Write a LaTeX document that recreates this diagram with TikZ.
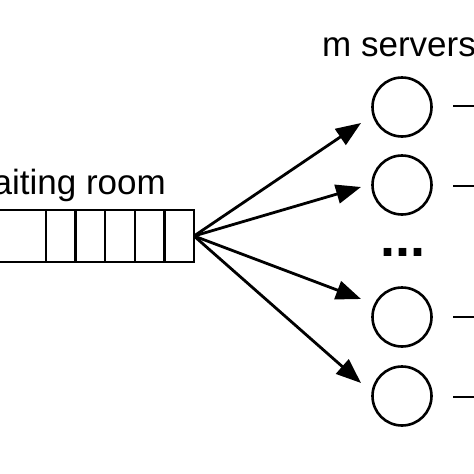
\documentclass[tikz,border=0pt]{standalone}
\usepackage{fontspec}
\setmainfont{Liberation Sans}
\usetikzlibrary{arrows.meta}
\tikzset{
  thinline/.style={line width=2.5pt, black},
  srv/.style={circle, draw, line width=2.6pt, minimum size=59pt, inner sep=0pt},
  flow/.style={line width=2.8pt, -{Triangle[length=25pt,width=19pt]}},
  outline/.style={line width=2.8pt},
  lbl/.style={font=\fontsize{35}{40}\selectfont, inner sep=0pt}
}
\begin{document}
\begin{tikzpicture}[x=1pt,y=-1pt]
\useasboundingbox (0,0) rectangle (474,474);
\clip (0,0) rectangle (474,474);
% queue
\draw[thinline] (-20,210) -- (194,210) -- (194,262) -- (-20,262);
\foreach \k in {1,...,5} {
  \draw[thinline] (194-29.6*\k,210) -- (194-29.6*\k,262);
}
\coordinate (q) at (194,236);
\node[lbl, anchor=base east] (wr) at (166,194) {waiting room};
% servers
\node[srv] (s1) at (402,107) {};
\node[srv] (s2) at (402,185) {};
\node[srv] (s3) at (402,317) {};
\node[srv] (s4) at (402,396) {};
\node[lbl, anchor=base west] (ms) at (322,56) {m servers};
\node[inner sep=0pt, anchor=base, font=\fontsize{54}{60}\selectfont\bfseries] (dots) at (403,256) {...};
% arrow targets
\coordinate (t1) at (361,123);
\coordinate (t2) at (361,187);
\coordinate (t3) at (361,299);
\coordinate (t4) at (361,383);
\draw[flow] (q) -- (t1);
\draw[flow] (q) -- (t2);
\draw[flow] (q) -- (t3);
\draw[flow] (q) -- (t4);
% outgoing lines
\coordinate (o1) at (490,106);
\coordinate (o2) at (490,186);
\coordinate (o3) at (490,317);
\coordinate (o4) at (490,397);
\draw[outline] (453,106) -- (o1);
\draw[outline] (453,186) -- (o2);
\draw[outline] (453,317) -- (o3);
\draw[outline] (453,397) -- (o4);
\end{tikzpicture}
\end{document}
